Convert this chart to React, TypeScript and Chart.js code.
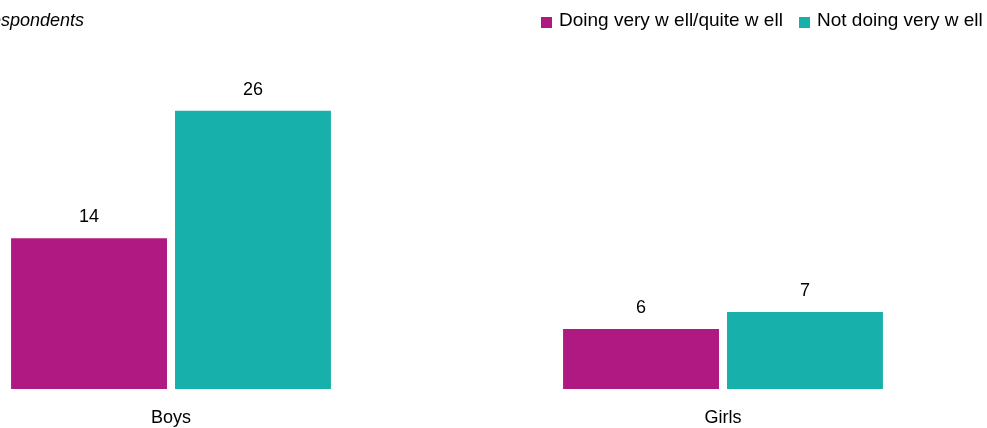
import React, { useEffect, useRef } from "react";
import { Chart, registerables } from "chart.js";

Chart.register(...registerables);

const categories = ["Boys", "Girls"];
const seriesNames = ["Doing very w ell/quite w ell", "Not doing very w ell"];
const doingWell = [14.1, 5.6];
const notDoingWell = [26, 7.2];
const seriesColors = ["#B01882", "#17B0AB"];
const titleText = "% of respondents";

const FONT = "'Liberation Sans', Arial, sans-serif";

const labelPlugin = {
  id: "barLabels",
  afterDatasetsDraw(chart: any) {
    const ctx = chart.ctx;
    ctx.save();
    ctx.font = `18px ${FONT}`;
    ctx.fillStyle = "#000";
    ctx.textAlign = "center";
    ctx.textBaseline = "bottom";
    chart.data.datasets.forEach((ds: any, i: number) => {
      const meta = chart.getDatasetMeta(i);
      meta.data.forEach((bar: any, j: number) => {
        ctx.fillText(String(Math.round(ds.data[j])), bar.x, bar.y - 12);
      });
    });
    ctx.restore();
  },
};

export default function App() {
  const ref = useRef<HTMLCanvasElement | null>(null);
  useEffect(() => {
    document.body.style.margin = "0";
    const chart = new Chart(ref.current as HTMLCanvasElement, {
      type: "bar",
      data: {
        labels: categories,
        datasets: [
          { label: seriesNames[0], data: doingWell, backgroundColor: seriesColors[0] },
          { label: seriesNames[1], data: notDoingWell, backgroundColor: seriesColors[1] },
        ],
      },
      options: {
        animation: false,
        responsive: false,
        maintainAspectRatio: false,
        layout: { padding: { left: 15, right: 11, top: 68, bottom: 0 } },
        datasets: {
          bar: { categoryPercentage: 0.594, barPercentage: 0.951 },
        },
        plugins: { legend: { display: false }, tooltip: { enabled: false } },
        scales: {
          x: {
            grid: { display: false, drawTicks: false },
            border: { display: false },
            ticks: { color: "#000", font: { family: FONT, size: 18 }, padding: 18 },
            afterFit: (scale: any) => {
              scale.height = 39;
            },
          },
          y: { display: false, min: 0, max: 30 },
        },
      },
      plugins: [labelPlugin],
    });
    return () => chart.destroy();
  }, []);

  const legendItem = (i: number, left: number) => (
    <div
      key={i}
      style={{
        position: "absolute",
        left,
        top: 8,
        display: "flex",
        alignItems: "center",
        fontFamily: FONT,
        fontSize: 19,
        color: "#000",
        whiteSpace: "nowrap",
        lineHeight: "24px",
      }}
    >
      <span
        style={{
          display: "inline-block",
          width: 11,
          height: 11,
          background: seriesColors[i],
          marginRight: 7,
          position: "relative",
          top: 2,
        }}
      />
      {seriesNames[i]}
    </div>
  );

  return (
    <div style={{ position: "fixed", left: 0, top: 0, width: 987, height: 428, overflow: "hidden", background: "#fff" }}>
      <canvas ref={ref} width={1130} height={428} style={{ position: "absolute", left: -120, top: 0 }} />
      <div
        style={{
          position: "absolute",
          right: 987 - 84,
          top: 8,
          fontFamily: FONT,
          fontSize: 18,
          fontStyle: "italic",
          whiteSpace: "nowrap",
          lineHeight: "24px",
          color: "#000",
        }}
      >
        {titleText}
      </div>
      {legendItem(0, 541)}
      {legendItem(1, 799)}
    </div>
  );
}
